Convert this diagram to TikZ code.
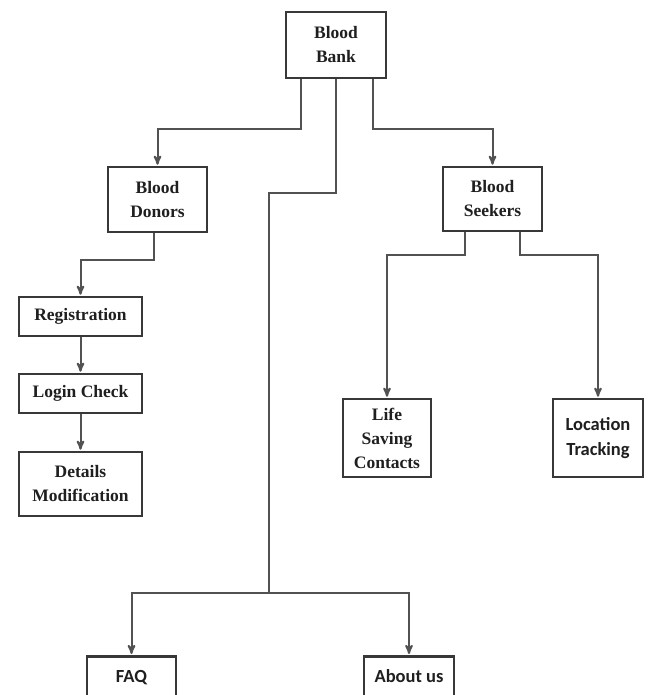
\documentclass[tikz,border=0pt]{standalone}
\usepackage{fontspec}
\setmainfont{Liberation Serif}
\newfontfamily\calibri{Carlito}
\usetikzlibrary{arrows}

\tikzset{
  blk/.style={draw=black!78, line width=2.6pt, fill=white, align=center, inner sep=0pt,
              text=black!88, font=\bfseries\fontsize{17.5}{24}\selectfont},
  calblk/.style={blk, font=\calibri\bfseries\fontsize{18.5}{25}\selectfont},
  cutblk/.style={calblk, anchor=north, text height=14pt, text depth=40pt, inner ysep=12pt},
  link/.style={draw=black!68, line width=2pt}
}

\begin{document}
\begin{tikzpicture}[x=1pt,y=-1pt,>=stealth',shorten >=1pt]
  \useasboundingbox (0,0) rectangle (650,695);
  \clip (0,0) rectangle (650,695);

  \node[blk, minimum width=100, minimum height=66] (bank) at (336,45) {Blood\\Bank};
  \node[blk, minimum width=99, minimum height=65] (donors) at (157.5,199.5) {Blood\\Donors};
  \node[blk, minimum width=99, minimum height=64] (seekers) at (492.5,199) {Blood\\Seekers};

  \node[blk, minimum width=123, minimum height=39] (reg) at (80.5,316.5) {Registration};
  \node[blk, minimum width=123, minimum height=39] (login) at (80.5,393.5) {Login Check};
  \node[blk, minimum width=123, minimum height=64] (details) at (80.5,484) {Details\\Modification};

  \node[blk, minimum width=88, minimum height=78] (life) at (387,438) {Life\\Saving\\Contacts};
  \node[calblk, minimum width=90, minimum height=78] (loc) at (598,438) {Location\\Tracking};

  \node[cutblk, minimum width=89] (faq) at (131.5,655) {FAQ};
  \node[cutblk, minimum width=90] (about) at (409,655) {About us};

  \coordinate (hub) at (269,593);

  % from the root
  \draw[link,->] ([xshift=-35]bank.south) -- ++(0,50) -| (donors.north);
  \draw[link,->] ([xshift=37]bank.south) -- ++(0,50) -| (seekers.north);
  \draw[link] (bank.south) -- ++(0,114) -| (hub);
  \draw[link,->] (hub) -| (faq.north);
  \draw[link,->] (hub) -| (about.north);

  % donors branch
  \draw[link,->] ([xshift=-4]donors.south) -- ++(0,27) -| (reg.north);
  \draw[link,->] (reg) -- (login);
  \draw[link,->] (login) -- (details);

  % seekers branch
  \draw[link,->] ([xshift=-27.5]seekers.south) -- ++(0,23) -| (life.north);
  \draw[link,->] ([xshift=27.5]seekers.south) -- ++(0,23) -| (loc.north);
\end{tikzpicture}
\end{document}
